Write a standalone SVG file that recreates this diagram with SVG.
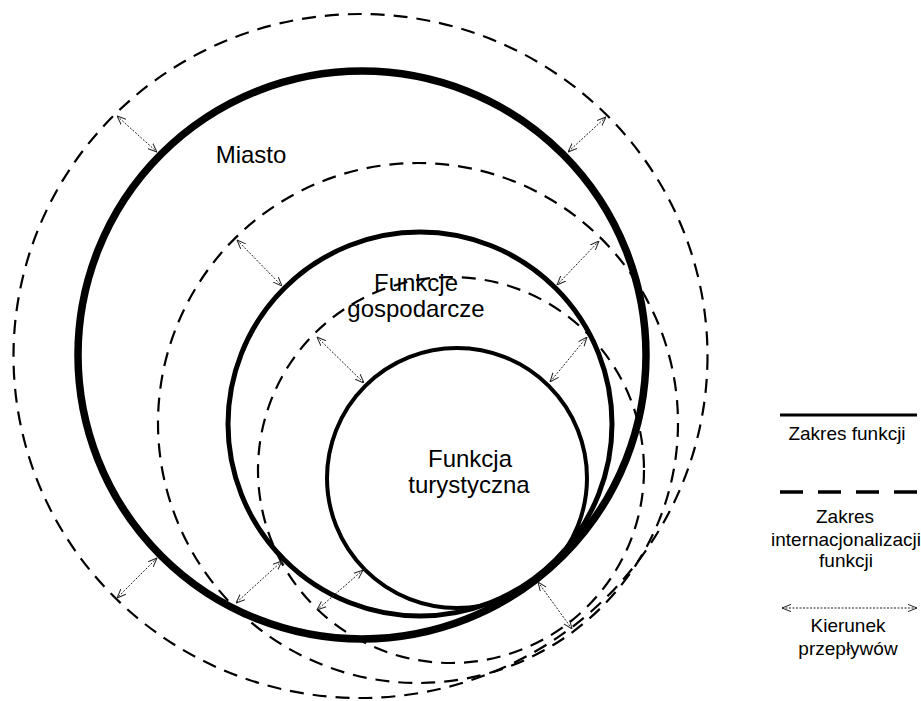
<svg xmlns="http://www.w3.org/2000/svg" width="921" height="701" viewBox="0 0 921 701">
  <defs>
    <style>
      .bg { fill: #ffffff; }
      .solid { fill: none; stroke: #000; }
      .dash { fill: none; stroke: #000; stroke-width: 2.2; stroke-dasharray: 14 9; }
      .flow { fill: none; stroke: #222; stroke-width: 1; stroke-dasharray: 2 1.5; marker-start: url(#head); marker-end: url(#head); }
      .label { font-family: "Liberation Sans", Arial, sans-serif; font-size: 24px; fill: #000; text-anchor: middle; }
      .legend { font-family: "Liberation Sans", Arial, sans-serif; font-size: 19px; fill: #000; text-anchor: middle; }
    </style>
    <marker id="head" viewBox="0 0 10 10" refX="10" refY="5" markerWidth="9" markerHeight="9" markerUnits="userSpaceOnUse" orient="auto-start-reverse">
      <path d="M0,1 L10,5 L0,9" fill="none" stroke="#222" stroke-width="1.1"/>
    </marker>
  </defs>

  <rect class="bg" x="0" y="0" width="921" height="701"/>

  <!-- internationalisation ranges (dashed) -->
  <g id="range-city">
    <ellipse class="dash" cx="360.5" cy="356" rx="347" ry="342"/>
  </g>
  <g id="range-economic">
    <circle class="dash" cx="418" cy="423" r="260"/>
  </g>
  <g id="range-tourism">
    <circle class="dash" cx="451" cy="470" r="193"/>
  </g>

  <!-- function ranges (solid) -->
  <g id="miasto">
    <circle class="solid" cx="362" cy="355" r="284" stroke-width="7.5"/>
    <text class="label" x="251" y="163">Miasto</text>
  </g>
  <g id="funkcje-gospodarcze">
    <circle class="solid" cx="420" cy="424" r="192" stroke-width="5"/>
    <text class="label" x="416" y="291">Funkcje</text>
    <text class="label" x="416" y="317">gospodarcze</text>
  </g>
  <g id="funkcja-turystyczna">
    <circle class="solid" cx="457" cy="478" r="130" stroke-width="4"/>
    <text class="label" x="470" y="467">Funkcja</text>
    <text class="label" x="469" y="493">turystyczna</text>
  </g>

  <!-- flow directions -->
  <g id="connectors">
    <path class="flow" d="M117,116 L157,152"/>
    <path class="flow" d="M606,117 L568,152"/>
    <path class="flow" d="M237,240 L282,286"/>
    <path class="flow" d="M599,241 L557,285"/>
    <path class="flow" d="M317,337 L364,383"/>
    <path class="flow" d="M587,337 L550,382"/>
    <path class="flow" d="M157,558 L117,598"/>
    <path class="flow" d="M282,561 L236,603"/>
    <path class="flow" d="M363,570 L317,610"/>
    <path class="flow" d="M538,582 L572,629"/>
  </g>

  <!-- legend -->
  <g id="legend">
    <line x1="780" y1="415" x2="917" y2="415" stroke="#000" stroke-width="3"/>
    <text class="legend" x="847" y="440">Zakres funkcji</text>
    <line x1="780" y1="492" x2="917" y2="492" stroke="#000" stroke-width="3.3" stroke-dasharray="23 15"/>
    <text class="legend" x="845" y="523">Zakres</text>
    <text class="legend" x="846" y="546">internacjonalizacji</text>
    <text class="legend" x="846" y="567">funkcji</text>
    <path class="flow" d="M782,608 L917,608"/>
    <text class="legend" x="848" y="632">Kierunek</text>
    <text class="legend" x="848" y="655">przepływów</text>
  </g>
</svg>
